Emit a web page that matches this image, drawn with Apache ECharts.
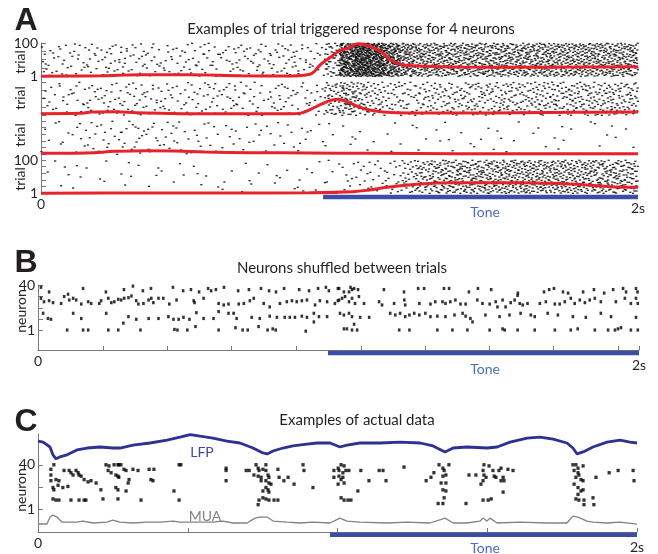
<!DOCTYPE html>
<html><head><meta charset="utf-8">
<script src="https://cdn.jsdelivr.net/npm/echarts@6/dist/echarts.min.js"></script>
<style>html,body{margin:0;padding:0;background:#fff}#c{width:658px;height:554px}</style>
</head><body><div id="c"></div>
<script>
// ---------------- DATA ----------------
const xLabels = ['0', '2s'];
const toneA = [945, 2000], toneB = [965, 2000], toneC = [975, 2000];   // ms
// Panel A: dots per 50 ms bin (all 100 trials) for each neuron
const n1Dots = [12,11,13,12,14,15,13,12,11,12,13,12,11,13,15,14,15,13,12, 40,160,200,180,130,90,75,72,72,70,70,72,70,70,72,70,70,72,70,70,70];
const n2Dots = [8,9,10,12,13,14,13,12,12,11,12,13,12,11,10,11,12,11,12, 35,55,40,28,22,22,24,25,26,27,28,28,30,30,32,32,33,34,34,35,35];
const n3Dots = [4,5,6,8,9,9,10,9,8,7,6,6,5,6,5,5,5,5,4, 3,3,3,2,3,2,3,2,3,2,3,3,2,3,2,3,2,2,3,2,2];
const n4Dots = [2,3,3,2,3,3,2,3,3,2,3,2,3,3,2,3,3,4,3, 6,8,8,10,14,25,38,48,52,55,56,57,58,58,57,56,55,54,52,50,48];
// Panel A: PSTH curves [ms, height in trial units above block bottom]
const n1Rate = [[0,0],[200,2],[335,5],[500,5],[670,2],[840,1],[880,3],[910,10],[935,34],[970,57],[1000,76],[1040,88],[1060,98],[1100,91],[1140,73],[1170,50],[1200,37],[1260,31],[1400,28],[1600,27],[1800,28],[2000,29]];
const n2Rate = [[0,5],[130,6],[170,10],[250,11],[320,8],[500,5],[700,5],[850,5],[880,9],[920,25],[960,42],[995,48],[1030,40],[1050,31],[1100,16],[1190,8],[1400,7],[1600,8],[1800,9],[2000,10]];
const n3Rate = [[0,3],[150,4],[250,9],[350,11],[450,10],[550,7],[700,5],[900,4],[1100,3],[1400,2],[1700,2],[2000,2]];
const n4Rate = [[0,0],[300,1],[600,1],[900,2],[1045,5],[1100,10],[1159,18],[1270,28],[1380,32],[1500,32],[1605,32],[1715,30],[1829,25],[1906,20],[2000,18]];
// Panel B: shuffled spikes [ms, neuron]
const bSpikes = [
[10,38],[37,34],[150,37],[226,34],[286,36],[316,39],[349,35],[376,37],[449,38],[483,35],[509,36],[536,34],[566,37],[576,35],[592,36],[619,38],[666,35],[702,36],[742,37],[769,35],[792,34],[819,37],[869,36],[902,35],[932,37],[958,38],[968,35],[998,37],
[1002,37],[1018,34],[1035,34],[1040,38],[1045,36],[1052,37],[1065,36],[1151,36],[1218,34],[1265,37],[1285,37],[1351,37],[1368,37],[1434,34],[1464,37],[1508,36],[1597,33],[1684,34],[1701,36],[1717,37],[1747,34],[1764,33],[1814,34],[1850,36],[1884,33],[1914,36],[1947,37],[1957,34],[1990,37],[1995,34],
[10,28.5],[20,25.5],[37,26.4],[50,24.7],[77,24],[87,30],[100,32],[104,27],[117,28.5],[127,27],[144,23.5],[167,25.5],[177,24],[204,24],[210,26.4],[234,28.5],[244,24.7],[254,25.5],[267,27.6],[277,27],[287,28.5],[301,29],[311,30.5],[327,26.4],[334,23.5],[351,24],[368,27],[377,28.5],[384,24.7],[401,28.5],[417,28.5],[437,23.5],[461,27],[518,26.4],[521,24.7],[551,28.5],[601,24],[618,22.7],[634,23.5],[668,23.5],[685,24],[705,26.4],[718,28.5],[751,24],[771,21],[805,24],[828,25.5],[845,26.4],[861,25.5],[878,26.4],[895,27],[922,22.7],[938,26.4],[962,25.5],[988,24],[998,26.4],
[1002,27],[1012,28.5],[1022,30],[1035,25.5],[1045,28.5],[1055,24],[1068,30],[1085,24],[1135,25.5],[1145,22.7],[1185,24],[1219,27],[1222,22.7],[1269,24],[1306,23.5],[1322,25.5],[1346,25.5],[1356,24],[1372,25.5],[1389,27],[1406,23.5],[1423,23.5],[1462,27],[1479,24],[1503,23.5],[1523,25.5],[1529,21],[1546,27],[1556,21],[1573,24.7],[1586,27],[1596,31],[1603,24],[1613,22.7],[1629,24],[1670,24],[1690,25.5],[1720,23.5],[1736,23.5],[1753,25.5],[1773,28.5],[1786,24],[1803,27],[1820,24.7],[1836,27],[1853,28.5],[1873,25.5],[1923,25.5],[1953,28.5],[1973,24],[1990,28.5],[1996,24],
[17,15.5],[33,11],[43,10.3],[117,15.5],[144,11],[227,15.5],[301,12.6],[327,10.3],[368,11],[401,11],[434,12.6],[451,10.3],[468,10.3],[484,12],[504,10.3],[527,16],[551,11],[584,11],[601,17],[634,15.5],[651,15.5],[661,11],[711,12],[738,11],[771,13],[795,12],[821,12],[838,12],[855,12],[878,13],[895,12],[918,15.5],[935,12.6],[962,12.6],
[1005,15.5],[1018,14],[1035,15.5],[1045,12.6],[1072,12],[1102,12],[1172,15.5],[1189,14],[1205,15.5],[1222,12.6],[1236,14],[1252,15.5],[1269,14],[1289,15.5],[1306,12.6],[1329,13],[1356,12.6],[1386,14],[1413,15.5],[1423,13],[1439,11],[1446,8],[1489,14],[1536,12.6],[1569,14],[1606,15.5],[1640,14],[1653,12.6],[1696,15.5],[1730,14],[1780,12.6],[1823,12],[1873,15.5],[1907,12.6],[1990,12],
[97,1],[150,1],[167,1],[234,1],[267,1],[284,7],[341,1],[454,1.5],[464,1],[497,1],[524,4],[601,1],[657,3],[681,1],[698,1],[734,4],[764,1],[781,2],[791,1],[891,0],[918,8],
[1018,2],[1028,2],[1045,1],[1062,1],[1052,6],[1202,1],[1236,1],[1329,1],[1379,1],[1429,1],[1503,1],[1546,2],[1553,1],[1596,1],[1653,1],[1720,1],[1773,1],[1796,2],[1853,1],[1897,1],[1920,1],[1930,2],[1940,3],[1973,1],[1996,1]
];
// Panel C: actual spikes [ms, neuron]
const cSpikes = [
[43,36],[53,40],[43,31],[43,26],[60,27],[70,26],[50,20],[53,18],[67,22],[83,20],[100,21],[50,10],[60,9],[70,9],[87,35],[104,35],[110,33],[117,31],[127,35],[134,33],[137,31],[144,30],[154,27],[167,25],[177,26],[194,24],[210,18],[217,10],[110,9],[137,9],[154,9],[160,9],
[227,40],[237,39],[254,40],[267,40],[270,40],[277,40],[234,35],[244,33],[260,31],[267,30],[270,29],[287,36],[294,35],[304,27],[301,24],[317,36],[334,35],[371,36],[387,36],[377,27],[384,26],[260,20],[267,18],[294,17],[267,10],[344,9],[471,40],[477,40],[454,17],[471,9],
[628,37],[628,35],[628,26],[695,35],[705,35],[728,40],[735,37],[738,35],[721,31],[735,30],[745,29],[761,40],[751,36],[761,35],[768,31],[771,29],[745,26],[761,26],[771,24],[778,23],[761,20],[768,18],[751,17],[771,16],[801,36],[805,29],[821,26],[835,29],[855,23],[885,40],[888,35],[918,20],[738,9],[751,11],[761,10],[771,9],[788,9],[801,9],[735,5],[988,35],[988,29],
[1002,37],[1012,40],[1022,39],[1005,35],[1018,33],[1028,35],[1005,30],[1018,29],[1012,27],[1002,23],[1022,24],[1038,35],[1078,35],[1139,35],[1152,35],[1105,26],[1162,26],[1068,17],[1012,11],[1022,9],[1035,9],[1045,9],[1222,38],
[1339,40],[1352,37],[1372,40],[1356,35],[1362,31],[1352,30],[1322,33],[1312,29],[1296,26],[1346,24],[1362,24],[1352,18],[1362,17],[1356,11],[1336,6],[1352,6],[1429,6],[1439,31],[1462,31],
[1489,40],[1506,39],[1486,35],[1489,31],[1496,29],[1486,26],[1479,23],[1519,35],[1523,30],[1529,29],[1546,37],[1539,35],[1553,29],[1556,26],[1569,36],[1586,35],[1486,9],[1503,9],[1513,10],[1553,16],[1546,26],
[1786,40],[1796,40],[1803,37],[1820,39],[1790,35],[1803,33],[1806,31],[1796,29],[1813,27],[1820,26],[1790,23],[1803,20],[1820,18],[1813,17],[1803,14],[1796,10],[1806,9],[1823,9],[1853,11],[1823,5],[1856,5],[1863,29],[1907,33],[1937,35],[1987,35],[1990,26]
];
// Panel C: LFP and MUA traces [ms, value in neuron-axis units]
const lfp = [[0,60.8],[17,59.9],[40,55.6],[50,48.7],[60,45.2],[73,46.9],[97,48.7],[130,53],[164,54.7],[207,55.6],[250,54.7],[274,54.7],[317,57.3],[374,59.1],[431,61.7],[474,64.3],[508,66.5],[541,65.1],[584,63.4],[631,60.8],[674,59.1],[718,54.7],[751,50.4],[765,49.5],[785,52.1],[818,54.7],[851,56.5],[898,58.2],[932,59.1],[975,59.1],[1008,55.6],[1032,57.3],[1075,59.1],[1142,59.1],[1209,59.9],[1276,59.1],[1319,56.5],[1359,51.3],[1386,54.7],[1432,55.6],[1499,54.7],[1533,55.6],[1576,59.9],[1633,63.4],[1676,64.3],[1720,62.5],[1766,59.1],[1786,54.7],[1800,49.5],[1820,51.3],[1853,55.6],[1900,59.9],[1943,61.7],[1977,59.9],[2000,59.1]];
const mua = [[0,-12],[30,-12],[40,-5.9],[50,-4.2],[63,-5.9],[80,-10.3],[97,-10.3],[130,-10.3],[150,-9.4],[184,-11.1],[230,-10.3],[250,-8.5],[274,-10.3],[317,-11.1],[364,-10.3],[407,-10.3],[451,-9.4],[474,-10.3],[541,-10.3],[584,-10.3],[618,-9.4],[651,-11.1],[698,-11.1],[725,-6.8],[741,-5.9],[765,-5.9],[785,-9.4],[831,-10.3],[875,-11.1],[918,-10.3],[975,-11.1],[1008,-6.8],[1032,-9.4],[1075,-10.3],[1165,-11.1],[1232,-10.3],[1309,-11.1],[1349,-7.7],[1359,-6.8],[1386,-11.1],[1432,-11.1],[1476,-9.4],[1486,-6.8],[1499,-9.4],[1509,-6.8],[1533,-11.1],[1609,-10.3],[1700,-11.1],[1766,-11.1],[1786,-5.1],[1803,-5.9],[1833,-9.4],[1853,-10.3],[1900,-11.1],[1943,-10.3],[2000,-12]];
const bTicks = [0,216,429,642,859,1075,1288,1501,1714,1930,2000];
const cTicks = [0,500,1000,1500,2000];

// ---------------- BUILD ----------------
const aDots = [n1Dots, n2Dots, n3Dots, n4Dots];
const aRates = [n1Rate, n2Rate, n3Rate, n4Rate];
const blockH = 117;
const baseOf = n => (3 - n) * blockH;
// dots of each 50 ms bin spread over the bin and the 100 trials (Halton layout, separate start per bin)
const halton = (i, b) => { let f = 1, r = 0; while (i > 0) { f /= b; r += f * (i % b); i = Math.floor(i / b); } return r; };
const aPts = [];
aDots.forEach((counts, n) => {
  const base = baseOf(n);
  counts.forEach((c, b) => {
    const start = 1 + n * 7919 + b * 331;
    for (let i = 0; i < c; i++) {
      const k = start + i;
      aPts.push([b * 50 + halton(k, 2) * 50, base + 1 + Math.floor(halton(k, 3) * 100)]);
    }
  });
});
const aTicks = [];
aRates.forEach((r, n) => {
  const base = baseOf(n);
  (n < 2 ? [1,26,51,76,100] : [1,21,41,61,81,100]).forEach(t => aTicks.push(base + t));
});
const axisGrey = '#77787b';
const txt = '#231f20';
const fam = 'Lato, "Noto Sans", sans-serif';
const xFmt = v => v === 0 ? '{a|' + xLabels[0] + '}' : '{b|' + xLabels[1] + '}';
const xRich = { a: { fontSize: 14, fontFamily: fam, color: txt }, b: { fontSize: 14, fontFamily: fam, color: txt, padding: [4, 0, 0, 0] } };

const toneColor = '#3c4da6';
const toneLine = (xi, yi, range, v) => ({
  type: 'line', xAxisIndex: xi, yAxisIndex: yi, clip: false, symbol: 'none', silent: true,
  data: [[range[0], v], [range[1], v]], lineStyle: { color: toneColor, width: 4.5, cap: 'butt' }, z: 5
});

const series = [
  { type: 'scatter', xAxisIndex: 0, yAxisIndex: 0, data: aPts, symbol: 'rect', symbolSize: [2.2, 1.4], itemStyle: { color: '#000' }, silent: true, z: 2 },
  ...aRates.map((r, n) => ({
    type: 'line', xAxisIndex: 0, yAxisIndex: 0, smooth: 0.4, symbol: 'none', silent: true, clip: false,
    data: r.map(([t, v]) => [t, baseOf(n) + 1 + v]), lineStyle: { color: '#e8222a', width: 3 }, z: 4
  })),
  toneLine(0, 0, toneA, -10),
  { type: 'scatter', xAxisIndex: 1, yAxisIndex: 1, data: bSpikes, symbol: 'rect', symbolSize: [2.6, 3.2], itemStyle: { color: '#000' }, silent: true },
  toneLine(1, 1, toneB, -18.9),
  { type: 'scatter', xAxisIndex: 2, yAxisIndex: 2, data: cSpikes, symbol: 'rect', symbolSize: [3.2, 3.4], itemStyle: { color: '#000' }, silent: true },
  { type: 'line', xAxisIndex: 2, yAxisIndex: 2, data: lfp, symbol: 'none', silent: true, clip: false, lineStyle: { color: '#2e3192', width: 2.8 } },
  { type: 'line', xAxisIndex: 2, yAxisIndex: 2, data: mua, symbol: 'none', silent: true, clip: false, lineStyle: { color: '#808285', width: 1.3 } },
  toneLine(2, 2, toneC, -21.5)
];

const yBase = {
  type: 'value', splitLine: { show: false },
  axisLine: { show: true, lineStyle: { color: axisGrey, width: 1 } },
  axisTick: { show: true, inside: true, length: 5, lineStyle: { color: axisGrey } },
  axisLabel: { margin: 3, fontSize: 14, fontFamily: fam, color: txt }
};
const xBase = {
  type: 'value', min: 0, max: 2000, splitLine: { show: false },
  axisLine: { show: true, onZero: false, lineStyle: { color: axisGrey, width: 1 } },
  axisTick: { show: true, inside: true, length: 4, lineStyle: { color: axisGrey } },
  axisLabel: { margin: 4, customValues: [0, 2000], formatter: xFmt, rich: xRich }
};

const T = (text, x, y, font, fill, rot) => ({
  type: 'text', x, y, rotation: rot || 0, silent: true,
  style: { text, font, fill: fill || txt, align: 'center', verticalAlign: 'middle', textAlign: 'center', textVerticalAlign: 'middle' }
});
const letterFont = 'bold 32px "Liberation Sans", Arial, sans-serif';
const tFont = '15px ' + fam;
const lFont = '14px ' + fam;

const option = {
  animation: false,
  backgroundColor: '#fff',
  grid: [
    { left: 41, top: 43, width: 597, height: 151.33 },
    { left: 38, top: 285, width: 601, height: 65 },
    { left: 38, top: 434, width: 599, height: 99 }
  ],
  xAxis: [
    Object.assign({}, xBase, { gridIndex: 0, axisLine: { show: false }, axisTick: { show: false }, axisLabel: Object.assign({}, xBase.axisLabel, { margin: 3 }) }),
    Object.assign({}, xBase, { gridIndex: 1, axisTick: Object.assign({}, xBase.axisTick, { customValues: bTicks }) }),
    Object.assign({}, xBase, { gridIndex: 2, axisTick: Object.assign({}, xBase.axisTick, { customValues: cTicks }) })
  ],
  yAxis: [
    Object.assign({}, yBase, { gridIndex: 0, min: -2, max: 452,
      axisTick: Object.assign({}, yBase.axisTick, { customValues: aTicks }),
      axisLabel: Object.assign({}, yBase.axisLabel, { customValues: [baseOf(0) + 100, baseOf(0) + 1, baseOf(3) + 100, baseOf(3) + 1],
        formatter: v => String(v > baseOf(0) ? v - baseOf(0) : v) }) }),
    Object.assign({}, yBase, { gridIndex: 1, min: -16.3, max: 40,
      axisTick: Object.assign({}, yBase.axisTick, { customValues: [1, 10, 20, 30, 40] }),
      axisLabel: Object.assign({}, yBase.axisLabel, { customValues: [1, 40] }) }),
    Object.assign({}, yBase, { gridIndex: 2, min: -19, max: 67,
      axisTick: Object.assign({}, yBase.axisTick, { customValues: [1, 20, 40] }),
      axisLabel: Object.assign({}, yBase.axisLabel, { customValues: [1, 40] }) })
  ],
  series,
  graphic: [
    T('A', 26, 21, letterFont), T('B', 26, 263, letterFont), T('C', 26, 422, letterFont),
    T('Examples of trial triggered response for 4 neurons', 351, 29, tFont),
    T('Neurons shuffled between trials', 342, 268, tFont),
    T('Examples of actual data', 357, 420, tFont),
    T('Tone', 485, 212, lFont, '#4a6cc2'), T('Tone', 485, 369, lFont, '#4a6cc2'), T('Tone', 485, 548, lFont, '#4a6cc2'),
    T('LFP', 202, 452, lFont, '#3a48b0'), T('MUA', 205, 516, lFont, '#808285'),
    T('trial', 20, 62, lFont, txt, Math.PI / 2), T('trial', 20, 98, lFont, txt, Math.PI / 2),
    T('trial', 20, 135, lFont, txt, Math.PI / 2), T('trial', 20, 179, lFont, txt, Math.PI / 2),
    T('neuron', 21, 311, lFont, txt, Math.PI / 2), T('neuron', 21, 490, lFont, txt, Math.PI / 2)
  ]
};
const chart = echarts.init(document.getElementById('c'), null, { renderer: 'canvas' });
chart.setOption(option);
</script></body></html>
